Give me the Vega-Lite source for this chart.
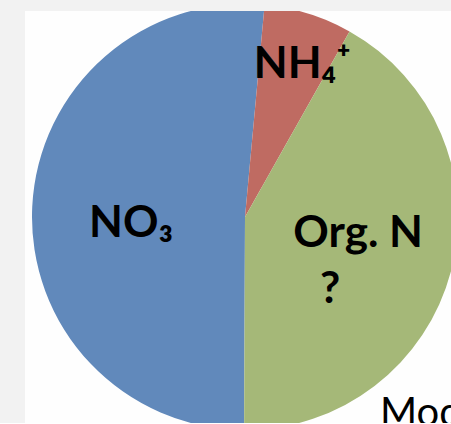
{
  "$schema": "https://vega.github.io/schema/vega-lite/v6.json",
  "width": 440,
  "height": 412,
  "autosize": {"type": "none"},
  "padding": {"left": 25, "top": 11, "right": 0, "bottom": 0},
  "background": "#f2f2f2",
  "view": {"fill": "#fefefe", "stroke": null},
  "title": {
    "text": "Mod",
    "orient": "bottom",
    "anchor": "start",
    "frame": "group",
    "baseline": "alphabetic",
    "offset": 3,
    "dx": 355,
    "font": "Lato",
    "fontSize": 40,
    "fontWeight": "normal",
    "color": "#000000"
  },
  "data": {
    "values": [
      {"component": "NO₃", "label": "NO₃", "note": "", "value": 51.4},
      {"component": "NH₄⁺", "label": "NH₄⁺", "note": "", "value": 6.7},
      {"component": "Org. N", "label": "Org. N", "note": "?", "value": 41.9}
    ]
  },
  "encoding": {
    "theta": {"field": "value", "type": "quantitative", "stack": true, "scale": {"range": [0.5131, 6.7963]}},
    "order": {"field": "component", "sort": "descending"}
  },
  "layer": [
    {
      "mark": {"type": "arc", "outerRadius": 213, "clip": true, "strokeWidth": 0},
      "encoding": {
        "color": {
          "field": "component",
          "type": "nominal",
          "scale": {"domain": ["NO₃", "NH₄⁺", "Org. N"], "range": ["#6189bb", "#bf6b62", "#a5b878"]},
          "legend": null
        }
      }
    },
    {
      "mark": {
        "type": "text",
        "font": "Lato",
        "fontWeight": "bold",
        "fontSize": 44,
        "color": "#000000",
        "radius": {"expr": "datum.component === 'NH₄⁺' ? 159 : datum.component === 'Org. N' ? 117 : 114"},
        "dx": {"expr": "datum.component === 'NH₄⁺' ? 10 : 0"},
        "dy": {"expr": "datum.component === 'Org. N' ? -13 : datum.component === 'NO₃' ? 12 : 0"}
      },
      "encoding": {"text": {"field": "label"}}
    },
    {
      "mark": {
        "type": "text",
        "font": "Lato",
        "fontWeight": "bold",
        "fontSize": 44,
        "color": "#000000",
        "radius": 117,
        "dx": -28,
        "dy": 43
      },
      "encoding": {"text": {"field": "note"}}
    }
  ]
}
